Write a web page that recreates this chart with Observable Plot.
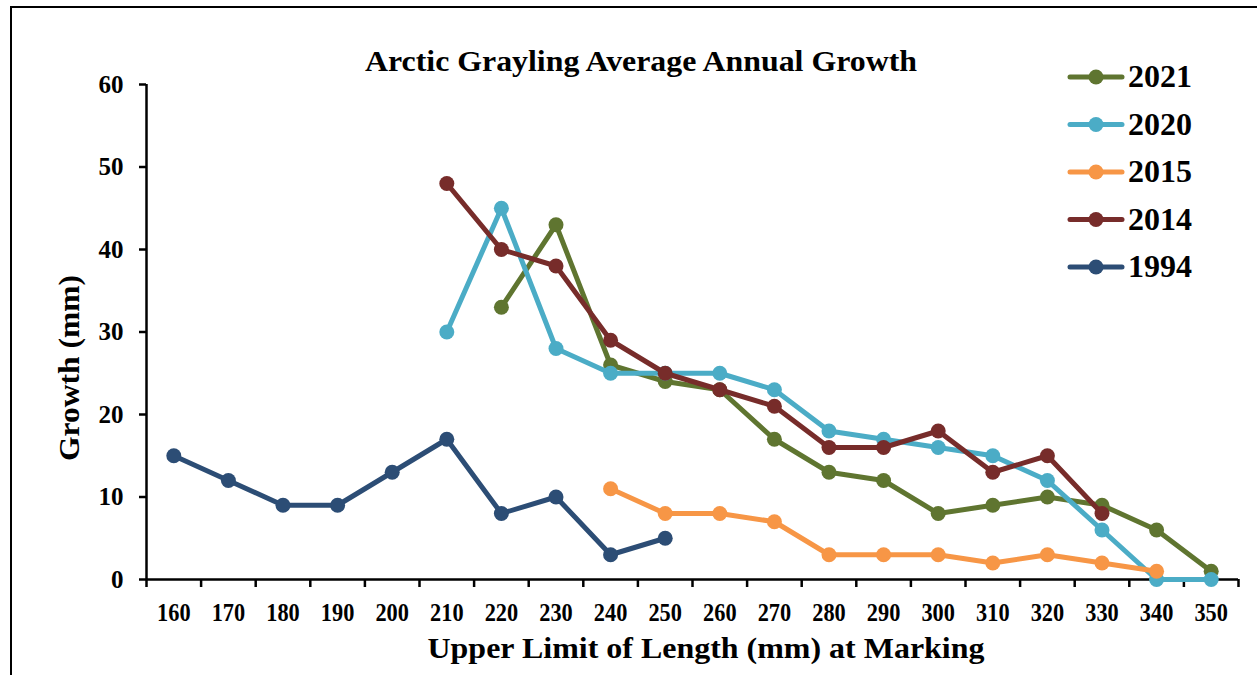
<!DOCTYPE html>
<html><head><meta charset="utf-8">
<script src="https://cdn.jsdelivr.net/npm/d3@7"></script>
<script src="https://cdn.jsdelivr.net/npm/@observablehq/plot@0.6"></script>
<style>body{margin:0;background:#fff}</style>
</head><body><div id="chart"></div>
<script>
const lengths = [160,170,180,190,200,210,220,230,240,250,260,270,280,290,300,310,320,330,340,350];
const yTicks = [0,10,20,30,40,50,60];
const seriesNames = ["2021","2020","2015","2014","1994"];
const colors = ["#5f7530","#4bacc6","#f79646","#772c2a","#2c4d75"];
const x2021 = [220,230,240,250,260,270,280,290,300,310,320,330,340,350];
const v2021 = [33,43,26,24,23,17,13,12,8,9,10,9,6,1];
const x2020 = [210,220,230,240,250,260,270,280,290,300,310,320,330,340,350];
const v2020 = [30,45,28,25,25,25,23,18,17,16,15,12,6,0,0];
const x2015 = [240,250,260,270,280,290,300,310,320,330,340];
const v2015 = [11,8,8,7,3,3,3,2,3,2,1];
const x2014 = [210,220,230,240,250,260,270,280,290,300,310,320,330];
const v2014 = [48,40,38,29,25,23,21,16,16,18,13,15,8];
const x1994 = [160,170,180,190,200,210,220,230,240,250];
const v1994 = [15,12,9,9,13,17,8,10,3,5];

const xs = [x2021,x2020,x2015,x2014,x1994];
const vs = [v2021,v2020,v2015,v2014,v1994];
const data = [];
seriesNames.forEach((s,i)=>xs[i].forEach((x,j)=>data.push({series:s,len:x,g:vs[i][j]})));
const boundaries = lengths.map(d=>d-5).concat([355]);

const font = "'Liberation Serif','Times New Roman',serif";
const W = 1257, H = 675;
const chart = Plot.plot({
  width: W, height: H,
  marginLeft: 146, marginRight: 19, marginTop: 84, marginBottom: 96,
  style: {fontFamily: font, fontWeight: "bold", fontSize: "25px", color: "#000", background: "#fff", overflow: "visible"},
  x: {type: "linear", domain: [155,355]},
  y: {domain: [0,60]},
  color: {domain: seriesNames, range: colors},
  marks: [
    Plot.axisY({ticks: yTicks, tickSize: 7, tickPadding: 16, label: null, strokeWidth: 2.5, fontSize: 25}),
    Plot.axisX({ticks: boundaries, tickSize: 8, tickFormat: () => "", label: null, strokeWidth: 2.5}),
    Plot.axisX({ticks: lengths, tickSize: 0, tickPadding: 23, label: null, tickFormat: d => String(d), fontSize: 26}),
    Plot.ruleX([155], {stroke: "#000", strokeWidth: 2.5}),
    Plot.ruleY([0], {stroke: "#000", strokeWidth: 2.5}),
    ...seriesNames.map(s => Plot.line(data.filter(d=>d.series===s), {x:"len", y:"g", stroke:"series", strokeWidth:5})),
    ...seriesNames.map(s => Plot.dot(data.filter(d=>d.series===s), {x:"len", y:"g", fill:"series", r:7.5}))
  ]
});
document.getElementById("chart").appendChild(chart);
const svg = d3.select(chart);
const gs = svg.selectAll(":scope > g").nodes();
const lineGs = gs.slice(gs.length-10, gs.length-5), dotGs = gs.slice(gs.length-5);
lineGs.forEach((lg,i)=>{ chart.appendChild(lg); chart.appendChild(dotGs[i]); });

// horizontally condense x tick labels
svg.selectAll('g[aria-label="x-axis tick label"] text').each(function(){
  const t = this.getAttribute("transform") || "";
  this.setAttribute("transform", t + " scale(0.86,1)");
});

svg.append("rect").attr("x",11).attr("y",7).attr("width",1270).attr("height",700)
  .attr("fill","none").attr("stroke","#000").attr("stroke-width",2);
svg.append("text").attr("x",641).attr("y",71).attr("text-anchor","middle")
  .attr("font-size",30).attr("font-weight","bold").attr("font-family",font)
  .attr("textLength",552).attr("lengthAdjust","spacingAndGlyphs")
  .text("Arctic Grayling Average Annual Growth");
svg.append("text").attr("x",706).attr("y",658).attr("text-anchor","middle")
  .attr("font-size",30).attr("font-weight","bold").attr("font-family",font)
  .attr("textLength",557).attr("lengthAdjust","spacingAndGlyphs")
  .text("Upper Limit of Length (mm) at Marking");
svg.append("text").attr("transform","translate(79,368) rotate(-90)").attr("text-anchor","middle")
  .attr("font-size",30).attr("font-weight","bold").attr("font-family",font)
  .attr("textLength",186).attr("lengthAdjust","spacingAndGlyphs")
  .text("Growth (mm)");
const leg = svg.append("g");
seriesNames.forEach((s,i)=>{
  const y = 77 + i*47.5;
  leg.append("line").attr("x1",1070).attr("x2",1122).attr("y1",y).attr("y2",y)
    .attr("stroke",colors[i]).attr("stroke-width",5).attr("stroke-linecap","round");
  leg.append("circle").attr("cx",1096).attr("cy",y).attr("r",7.5).attr("fill",colors[i]);
  leg.append("text").attr("x",1128).attr("y",y+10).attr("text-anchor","start")
    .attr("font-size",32).attr("font-weight","bold")
    .attr("font-family",font).text(s);
});
</script></body></html>
